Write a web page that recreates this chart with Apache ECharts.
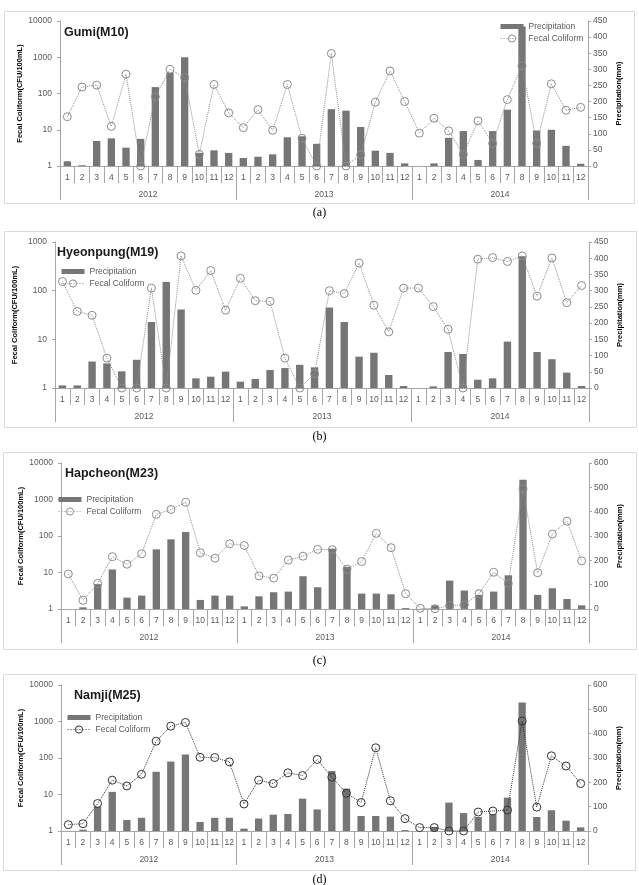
<!DOCTYPE html>
<html>
<head>
<meta charset="utf-8">
<script src="https://cdn.jsdelivr.net/npm/echarts@6.0.0/dist/echarts.min.js"></script>
<style>
  html, body { margin: 0; padding: 0; background: #fff; }
  #chart { width: 639px; height: 885px; }
</style>
</head>
<body>
<div id="chart"></div>
<script>
// categories
const months = ['1', '2', '3', '4', '5', '6', '7', '8', '9', '10', '11', '12'];
const years = ['2012', '2013', '2014'];

// (a) Gumi(M10)
const gumiPrecip = [1.35, 1.05, 4.9, 5.8, 3.2, 5.6, 150, 376, 1000, 2.3, 2.7, 2.3,
  1.66, 1.8, 2.1, 6.2, 6.6, 4.1, 37, 33.6, 11.9, 2.65, 2.3, 1.18,
  1, 1.18, 6.0, 9.2, 1.47, 9.2, 35.8, 7100, 9.5, 10, 3.6, 1.15];
const gumiColiform = [153, 245, 251, 123, 285, 0, 215, 300, 274, 36, 253, 165,
  119, 175, 111, 253, 86, 0, 349, 0, 35, 198, 295, 200,
  102, 148, 109, 36, 140, 70, 206, 311, 70, 255, 173, 182];

// (b) Hyeonpung(M19)
const hyeonPrecip = [1.13, 1.13, 3.5, 3.2, 2.2, 3.8, 22.7, 151, 41, 1.58, 1.71, 2.17,
  1.35, 1.53, 2.34, 2.57, 3.0, 2.66, 45, 22.7, 4.4, 5.3, 1.85, 1.1,
  1, 1.08, 5.5, 5.0, 1.48, 1.58, 9.0, 510, 5.5, 3.9, 2.07, 1.1];
const hyeonColiform = [328, 236, 224, 92, 0, 0, 308, 0, 407, 301, 362, 240,
  338, 269, 267, 92, 0, 44, 300, 291, 385, 255, 173, 308,
  308, 251, 181, 0, 397, 402, 390, 407, 283, 401, 263, 316];

// (c) Hapcheon(M23)
const hapPrecip = [1, 1.11, 4.8, 12.1, 2.05, 2.33, 43, 81, 129, 1.77, 2.33, 2.33,
  1.18, 2.23, 2.88, 3.0, 7.9, 3.95, 45, 14.3, 2.64, 2.64, 2.53, 1.06,
  1, 1.26, 6.0, 3.2, 2.43, 3.0, 8.4, 3500, 2.43, 3.7, 1.88, 1.26];
const hapColiform = [144, 36, 105, 215, 184, 227, 389, 409, 439, 231, 209, 268,
  261, 136, 127, 201, 217, 245, 244, 164, 195, 311, 252, 63,
  3, 1, 14, 17, 63, 151, 105, 494, 149, 308, 361, 198];

// (d) Namji(M25)
const namjiPrecip = [1, 1.09, 4.6, 11.8, 2.0, 2.3, 42, 80, 125, 1.77, 2.3, 2.3,
  1.16, 2.2, 2.8, 2.93, 7.7, 3.9, 44, 14.5, 2.58, 2.58, 2.48, 1.06,
  1, 1.29, 6.0, 3.1, 2.42, 2.87, 8.2, 3340, 2.42, 3.7, 1.92, 1.26];
const namjiColiform = [26, 30, 113, 209, 185, 233, 369, 431, 446, 303, 302, 284,
  111, 209, 195, 239, 228, 294, 221, 155, 117, 342, 124, 51,
  14, 14, 0, 0, 78, 82, 86, 452, 98, 309, 267, 195];

const categories = [];
years.forEach(y => months.forEach(m => categories.push(y + '-' + m)));

const font = 'Liberation Sans';
const axisColor = '#a6a6a6';
const labelColor = '#595959';

const panels = [
  { title: 'Gumi(M10)', tag: '(a)', precip: gumiPrecip, coliform: gumiColiform,
    logMax: 10000, rMax: 450, rStep: 50, lineColor: '#8c8c8c',
    grid: { left: 60, top: 21, width: 528, height: 145 },
    frame: [4, 11, 630, 192], titlePos: [64, 26], tagTop: 207,
    legendPos: [500, 22] },
  { title: 'Hyeonpung(M19)', tag: '(b)', precip: hyeonPrecip, coliform: hyeonColiform,
    logMax: 1000, rMax: 450, rStep: 50, lineColor: '#8c8c8c',
    grid: { left: 55, top: 242, width: 534, height: 146 },
    frame: [4, 231, 632, 196], titlePos: [57, 246], tagTop: 431,
    legendPos: [61, 267] },
  { title: 'Hapcheon(M23)', tag: '(c)', precip: hapPrecip, coliform: hapColiform,
    logMax: 10000, rMax: 600, rStep: 100, lineColor: '#8c8c8c',
    grid: { left: 61, top: 463, width: 528, height: 146 },
    frame: [3, 452, 633, 197], titlePos: [65, 467], tagTop: 655,
    legendPos: [58, 495] },
  { title: 'Namji(M25)', tag: '(d)', precip: namjiPrecip, coliform: namjiColiform,
    logMax: 10000, rMax: 600, rStep: 100, lineColor: '#333333',
    grid: { left: 61, top: 685, width: 527, height: 146 },
    frame: [3, 674, 632, 196], titlePos: [74, 689], tagTop: 874,
    legendPos: [67, 713] }
];

const option = {
  animation: false,
  backgroundColor: '#fff',
  textStyle: { fontFamily: font },
  grid: [], xAxis: [], yAxis: [], series: [], legend: [], title: [], graphic: []
};

panels.forEach((p, i) => {
  option.grid.push(p.grid);
  option.graphic.push({
    type: 'rect', silent: true, z: -10,
    shape: { x: p.frame[0] + 0.5, y: p.frame[1] + 0.5, width: p.frame[2], height: p.frame[3] },
    style: { fill: 'none', stroke: '#d9d9d9', lineWidth: 1 }
  });
  option.title.push({
    text: p.title, left: p.titlePos[0], top: p.titlePos[1], padding: 0,
    textStyle: { fontFamily: font, fontSize: 12.5, fontWeight: 'bold', color: '#1a1a1a' }
  });
  option.title.push({
    text: p.tag, left: 'center', top: p.tagTop, padding: 0,
    textStyle: { fontFamily: 'Liberation Serif', fontSize: 12, fontWeight: 'normal', color: '#000' }
  });
  // month axis
  option.xAxis.push({
    type: 'category', gridIndex: i, data: categories, position: 'bottom', offset: 0,
    axisLine: { lineStyle: { color: axisColor } },
    axisTick: { show: true, interval: 0, length: 17, lineStyle: { color: axisColor } },
    axisLabel: { interval: 0, margin: 7, fontSize: 8.5, color: labelColor, fontFamily: font,
      formatter: v => v.split('-')[1] }
  });
  // year axis
  option.xAxis.push({
    type: 'category', gridIndex: i, data: years, position: 'bottom', offset: 0,
    axisLine: { show: false },
    axisTick: { show: true, interval: 0, length: 34, lineStyle: { color: axisColor } },
    axisLabel: { interval: 0, margin: 24, fontSize: 8.5, color: labelColor, fontFamily: font }
  });
  option.yAxis.push({
    type: 'log', gridIndex: i, logBase: 10, min: 1, max: p.logMax, position: 'left',
    name: 'Fecal Coliform(CFU/100mL)', nameLocation: 'middle', nameGap: 36,
    nameMoveOverlap: false,
    nameTextStyle: { fontSize: 7.5, fontWeight: 'bold', color: '#000', fontFamily: font },
    splitLine: { show: false },
    axisLine: { show: true, lineStyle: { color: axisColor } },
    axisTick: { show: true, length: 3, lineStyle: { color: axisColor } },
    axisLabel: { margin: 8, fontSize: 8.5, color: labelColor, fontFamily: font,
      formatter: v => String(Math.round(v)) }
  });
  option.yAxis.push({
    type: 'value', gridIndex: i, min: 0, max: p.rMax, interval: p.rStep, position: 'right',
    name: 'Precipitation(mm)', nameLocation: 'middle', nameGap: 27,
    nameMoveOverlap: false,
    nameTextStyle: { fontSize: 7.5, fontWeight: 'bold', color: '#000', fontFamily: font },
    splitLine: { show: false },
    axisLine: { show: true, lineStyle: { color: axisColor } },
    axisTick: { show: true, length: 3, lineStyle: { color: axisColor } },
    axisLabel: { margin: 5, fontSize: 8.5, color: labelColor, fontFamily: font }
  });
  option.series.push({
    type: 'bar', name: 'Precipitation', xAxisIndex: 2 * i, yAxisIndex: 2 * i,
    data: p.precip, barWidth: '50%', itemStyle: { color: '#767676' }, z: 2
  });
  option.series.push({
    type: 'line', name: 'Fecal Coliform', xAxisIndex: 2 * i, yAxisIndex: 2 * i + 1,
    data: p.coliform, symbol: 'circle', symbolSize: 8,
    lineStyle: { type: 'dotted', width: 1, color: p.lineColor },
    itemStyle: { color: 'rgba(255,255,255,0)', borderColor: p.lineColor, borderWidth: 1 },
    z: 3
  });
  option.legend.push({
    orient: 'vertical', left: p.legendPos[0], top: p.legendPos[1], padding: 0,
    itemGap: 3, itemWidth: 23, itemHeight: 9, selectedMode: false,
    lineStyle: { type: 'dotted' },
    textStyle: { fontSize: 8.5, color: labelColor, fontFamily: font },
    data: [
      { name: 'Precipitation', icon: 'path://M0,0 L23,0 L23,5 L0,5 Z' },
      { name: 'Fecal Coliform',
        lineStyle: { color: p.lineColor, type: [1, 2], width: 1 },
        itemStyle: { color: 'rgba(255,255,255,0)', borderColor: p.lineColor, borderWidth: 1 } }
    ]
  });
});

const chart = echarts.init(document.getElementById('chart'), null, { renderer: 'canvas' });
chart.setOption(option);
</script>
</body>
</html>
